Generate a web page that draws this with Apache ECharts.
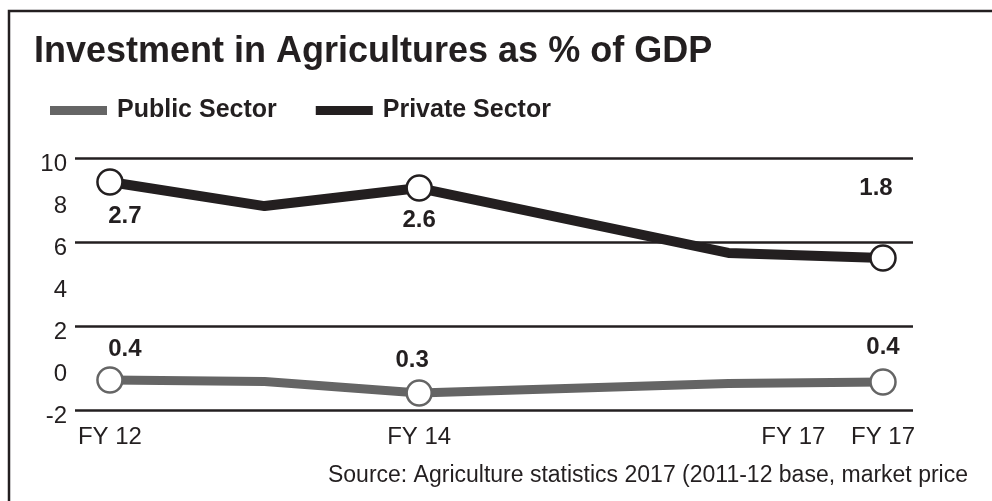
<!DOCTYPE html>
<html>
<head>
<meta charset="utf-8">
<script src="https://cdn.jsdelivr.net/npm/echarts@6/dist/echarts.min.js"></script>
<style>
html,body{margin:0;padding:0;background:#fff;}
#chart{width:992px;height:501px;}
</style>
</head>
<body>
<div id="chart"></div>
<script>
// ---- data ----
var xIndex = [0, 1, 2, 4, 5];
var privateSector = [8.86, 7.71, 8.57, 5.48, 5.24];
var publicSector = [-0.57, -0.64, -1.19, -0.74, -0.67];
var privateLabels = ['2.7', '', '2.6', '', '1.8'];
var publicLabels = ['0.4', '', '0.3', '', '0.4'];
var markerShown = [true, false, true, false, true];
var xTickPos = [0, 2, 4.42, 5];
var xTickLabels = ['FY 12', 'FY 14', 'FY 17', 'FY 17'];
var gridValues = [10, 6, 2, -2];
var title = 'Investment in Agricultures as % of GDP';
var source = 'Source: Agriculture statistics 2017 (2011-12 base, market price';

// ---- styles ----
var FONT = '"Liberation Sans", Arial, Helvetica, sans-serif';
var INK = '#231f20';
var GREY = '#656565';
var privateOffsets = [[15, 34], null, [0, 32], null, [-7, -70]];
var publicOffsets = [[15, -31], null, [-7, -33], null, [0, -35]];

function buildData(vals, texts, offsets) {
  return vals.map(function (v, i) {
    var item = { value: [xIndex[i], v] };
    if (!markerShown[i]) {
      item.symbol = 'none';
      item.label = { show: false };
    } else {
      item.label = {
        show: true,
        position: 'inside',
        offset: offsets[i],
        formatter: texts[i],
        fontFamily: FONT,
        fontWeight: 'bold',
        fontSize: 24,
        color: INK
      };
    }
    return item;
  });
}

var chart = echarts.init(document.getElementById('chart'), null, { renderer: 'canvas' });
chart.setOption({
  animation: false,
  backgroundColor: '#fff',
  title: {
    text: title,
    left: 29,
    top: 29,
    textStyle: { fontFamily: FONT, fontWeight: 'bold', fontSize: 36, color: INK }
  },
  legend: {
    left: 45,
    top: 93,
    icon: 'rect',
    itemWidth: 57,
    itemHeight: 9,
    itemGap: 39,
    itemStyle: { borderWidth: 0, borderColor: 'rgba(0,0,0,0)' },
    lineStyle: { width: 0, color: 'rgba(0,0,0,0)' },
    data: [
      { name: 'Public Sector', itemStyle: { color: GREY, borderWidth: 0, borderColor: 'rgba(0,0,0,0)' } },
      { name: 'Private Sector', itemStyle: { color: INK, borderWidth: 0, borderColor: 'rgba(0,0,0,0)' } }
    ],
    textStyle: { fontFamily: FONT, fontWeight: 'bold', fontSize: 25, color: INK, padding: [0, 0, 0, 5] }
  },
  grid: { left: 75, right: 79, top: 158, bottom: 91 },
  xAxis: {
    type: 'value',
    min: -0.226,
    max: 5.194,
    axisLine: { show: false },
    axisTick: { show: false },
    splitLine: { show: false },
    axisLabel: {
      customValues: xTickPos,
      margin: 15,
      fontFamily: FONT,
      fontSize: 24,
      color: INK,
      formatter: function (v) {
        var best = 0, d = 1e9;
        for (var i = 0; i < xTickPos.length; i++) {
          var dd = Math.abs(xTickPos[i] - v);
          if (dd < d) { d = dd; best = i; }
        }
        return xTickLabels[best];
      }
    }
  },
  yAxis: {
    type: 'value',
    min: -2,
    max: 10,
    interval: 2,
    axisLine: { show: false },
    axisTick: { show: false },
    splitLine: { show: false },
    axisLabel: {
      margin: 8,
      fontFamily: FONT,
      fontSize: 24,
      color: INK,
      verticalAlign: 'top',
      lineHeight: 13
    }
  },
  graphic: [
    {
      type: 'polyline',
      shape: { points: [[9, 700], [9, 11], [1200, 11]] },
      style: { fill: null, stroke: INK, lineWidth: 2.5 },
      silent: true
    },
    {
      type: 'text',
      x: 968,
      y: 476,
      style: {
        text: source,
        fontFamily: FONT,
        fontSize: 23,
        fill: INK,
        align: 'right',
        verticalAlign: 'middle'
      }
    }
  ],
  series: [
    {
      name: 'Public Sector',
      type: 'line',
      data: buildData(publicSector, publicLabels, publicOffsets),
      symbol: 'circle',
      symbolSize: 25,
      showAllSymbol: true,
      z: 3,
      lineStyle: { color: GREY, width: 9 },
      itemStyle: { color: '#fff', borderColor: GREY, borderWidth: 2.5 },
      emphasis: { disabled: true }
    },
    {
      name: 'Private Sector',
      type: 'line',
      data: buildData(privateSector, privateLabels, privateOffsets),
      symbol: 'circle',
      symbolSize: 25,
      showAllSymbol: true,
      z: 4,
      lineStyle: { color: INK, width: 10 },
      itemStyle: { color: '#fff', borderColor: INK, borderWidth: 2.5 },
      emphasis: { disabled: true },
      markLine: {
        silent: true,
        symbol: ['none', 'none'],
        label: { show: false },
        lineStyle: { color: INK, width: 2.5, type: 'solid' },
        data: gridValues.map(function (v) { return { yAxis: v }; }),
        z: 1
      }
    }
  ]
});
</script>
</body>
</html>
